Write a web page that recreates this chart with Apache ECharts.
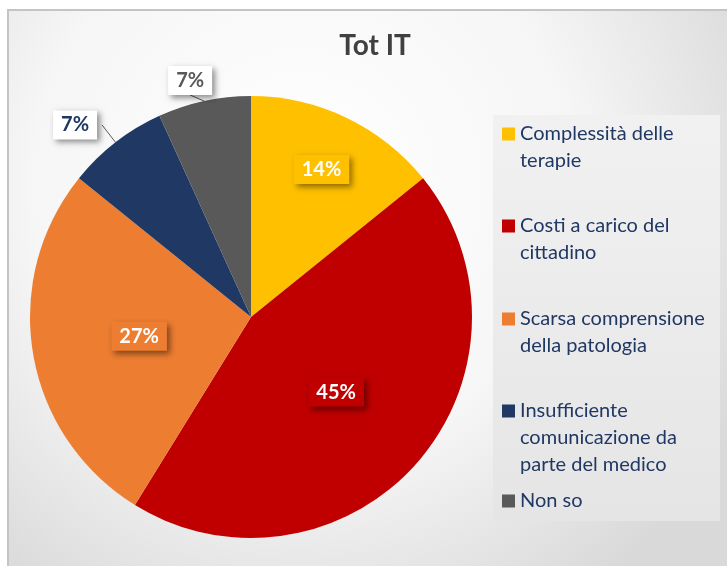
<!DOCTYPE html>
<html>
<head>
<meta charset="utf-8">
<script src="https://cdn.jsdelivr.net/npm/echarts@6/dist/echarts.min.js"></script>
<style>
  html, body { margin: 0; padding: 0; background: #fff; }
  #chart { width: 727px; height: 566px; }
</style>
</head>
<body>
<div id="chart"></div>
<script>
// categories and shares (percent of answers)
var categories = [
	'Complessità delle terapie',
	'Costi a carico del cittadino',
	'Scarsa comprensione della patologia',
	'Insufficiente comunicazione da parte del medico',
	'Non so'
];
var legendLabels = [
	'Complessità delle\nterapie',
	'Costi a carico del\ncittadino',
	'Scarsa comprensione\ndella patologia',
	'Insufficiente\ncomunicazione da\nparte del medico',
	'Non so'
];
var shares = [14.2, 44.6, 27.0, 7.4, 6.8];
var colors = ['#FFC000', '#C00000', '#ED7D31', '#1F3864', '#595959'];

var chartDom = document.getElementById('chart');
var myChart = echarts.init(chartDom);
var option;

var font = 'Lato';
var cx = 251, cy = 317, R = 221;
var lineH = 27;

var boxShadow = {
	shadowBlur: 6,
	shadowOffsetX: 3,
	shadowOffsetY: 3,
	shadowColor: 'rgba(0,0,0,0.45)'
};

var pieData = categories.map(function (name, i) {
	var outside = shares[i] < 10;
	var label = Object.assign({
		show: true,
		fontFamily: font,
		fontWeight: 'bold',
		fontSize: 20,
		padding: [5, 8, 4, 8],
		formatter: function (p) { return Math.round(p.percent) + '%'; }
	}, boxShadow);
	if (outside) {
		label.position = 'outside';
		label.color = colors[i];
		label.backgroundColor = '#ffffff';
	} else {
		label.position = 'inside';
		label.color = '#ffffff';
		label.backgroundColor = colors[i];
	}
	return {
		name: name,
		value: shares[i],
		itemStyle: { color: colors[i] },
		label: label,
		labelLine: { show: outside, length: 22, length2: 0, lineStyle: { color: '#595959', width: 1 } }
	};
});

// square marker sitting on the first text line: tiny dots stretch the icon box to the full text height
function legendIcon(h) {
	return 'path://M0,7h13v13h-13z M0,0h0.02v0.02h-0.02z M0,' + (h - 0.02) + 'h0.02v0.02h-0.02z';
}

// first-line centre of each legend entry
var legendRows = [134, 226, 319, 411, 501];
var legends = categories.map(function (name, i) {
	var lines = legendLabels[i].split('\n').length;
	return {
		left: 502,
		top: legendRows[i] - lineH / 2,
		orient: 'vertical',
		padding: 0,
		itemWidth: 13,
		itemHeight: lineH * lines,
		icon: legendIcon(lineH * lines),
		selectedMode: false,
		data: [name],
		formatter: function () { return legendLabels[i]; },
		textStyle: {
			fontFamily: font,
			fontSize: 20,
			color: '#203864',
			lineHeight: lineH
		}
	};
});

option = {
	animation: false,
	backgroundColor: '#ffffff',
	title: {
		text: 'Tot IT',
		left: 370,
		top: 27,
		textAlign: 'center',
		textStyle: { fontFamily: font, fontWeight: 'bold', fontSize: 28, color: '#404040' }
	},
	graphic: [
		{
			type: 'rect',
			z: -10,
			shape: { x: 8, y: 10, width: 740, height: 580 },
			style: {
				fill: {
					type: 'radial', x: 0.4, y: 0.3, r: 0.85,
					colorStops: [
						{ offset: 0, color: '#ffffff' },
						{ offset: 0.55, color: '#f6f6f6' },
						{ offset: 1, color: '#d9d9d9' }
					]
				},
				stroke: '#c4c4c4',
				lineWidth: 2
			}
		},
		{
			type: 'rect',
			z: -9,
			shape: { x: 493, y: 115, width: 227, height: 406 },
			style: {
				fill: {
					type: 'linear', x: 0, y: 0, x2: 0, y2: 1,
					colorStops: [
						{ offset: 0, color: '#f1f1f1' },
						{ offset: 1, color: '#e5e5e5' }
					]
				}
			}
		}
	],
	legend: legends,
	series: [
		{
			type: 'pie',
			center: [cx, cy],
			radius: R,
			startAngle: 90,
			clockwise: true,
			avoidLabelOverlap: false,
			data: pieData,
			emphasis: { disabled: true },
			labelLayout: function (p) {
				var v = shares[p.dataIndex];
				// narrow inside slices get their label pushed out towards the rim
				if (v < 20 && v >= 10) {
					var lx = p.labelRect.x + p.labelRect.width / 2;
					var ly = p.labelRect.y + p.labelRect.height / 2;
					return { dx: (lx - cx) * 0.44, dy: (ly - cy) * 0.44 };
				}
				// outside label near the top of the pie sits right above its leader line
				var pts = p.labelLinePoints;
				if (v < 10 && pts && Math.abs(pts[0][0] - cx) < 80) {
					return {
						x: pts[0][0] - 14,
						y: pts[0][1] - 6 - p.labelRect.height / 2,
						align: 'center',
						verticalAlign: 'middle'
					};
				}
				return {};
			}
		}
	]
};

option && myChart.setOption(option);
</script>
</body>
</html>
